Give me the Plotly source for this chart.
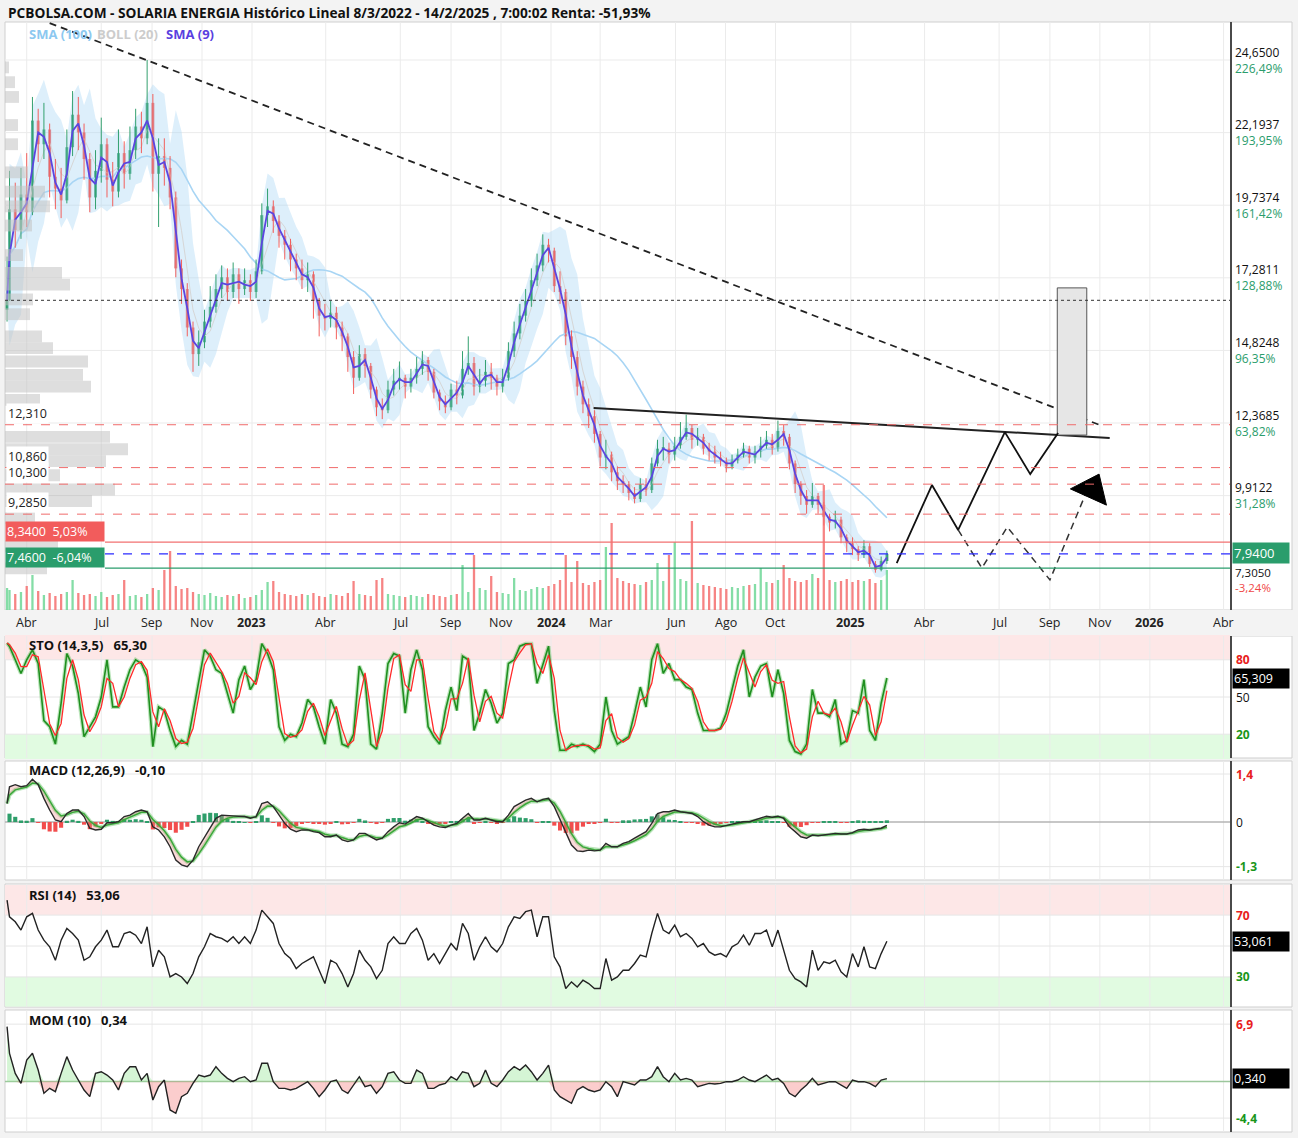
import numpy as np
import pandas as pd
import plotly.graph_objects as go

W, H = 1298, 1138
FONT = "Open Sans"

# ---------------- data (weekly samples) ----------------
dates = ["2022-03-08"] + [d.strftime("%Y-%m-%d") for d in
                          pd.date_range("2022-03-11", "2025-02-14", freq="W-FRI")]
first_open = 16.2
close = [
    # 2022
    16.52, 19.6, 18.9, 20.1, 19.5, 22.6, 21.8, 22.3, 20.7, 20.3, 19.9, 21.7, 22.8, 22.2, 21.3, 20.0, 20.9,
    21.8, 20.6, 20.2, 21.5, 20.8, 21.6, 22.4, 22.0, 23.2, 20.8, 21.4, 21.0, 20.0, 17.6, 16.9, 15.6, 14.7, 15.1,
    15.8, 16.3, 16.9, 17.3, 16.8, 17.4, 16.9, 17.2, 16.8,
    # 2023
    17.5, 19.4, 19.7, 19.2, 18.7, 18.4, 17.9, 17.6, 17.2, 17.4, 16.5, 16.0, 15.9,
    16.1, 15.6, 15.3, 14.6, 13.9, 14.7, 14.3, 13.5, 12.9, 12.8, 13.5, 13.8, 13.9,
    13.6, 13.9, 14.2, 14.5, 14.1, 13.4, 13.1, 12.9, 13.5, 13.3, 14.2, 14.4, 13.6,
    13.8, 14.1, 13.9, 13.6, 13.9, 14.8, 15.4, 16.0, 16.5, 17.2, 17.7, 18.4, 18.2,
    # 2024
    17.0, 16.8, 15.3, 14.6, 13.6, 13.0, 12.6, 12.0, 11.2, 11.3, 10.7, 10.4, 10.3,
    10.0, 9.8, 10.3, 10.1, 11.0, 11.5, 11.5, 11.3, 11.6, 11.9, 12.2, 11.8, 11.9,
    11.5, 11.4, 11.2, 11.1, 10.9, 11.1, 11.3, 11.5, 11.2, 11.4, 11.6, 11.8, 11.5,
    12.1, 11.9, 11.0, 10.3, 9.9, 9.6, 9.9, 9.6, 9.2, 9.0, 9.1, 8.5, 8.3,
    # 2025
    8.1, 7.9, 8.2, 7.6, 7.4, 7.7, 7.94,
]
high = [
    # 2022
    18.0, 20.9, 20.5, 21.0, 21.5, 23.4, 23.0, 23.2, 22.5, 21.3, 21.0, 22.3, 23.6, 23.4, 22.5, 21.5, 21.6,
    22.7, 22.0, 21.2, 22.3, 21.9, 22.4, 23.0, 22.9, 24.65, 23.5, 22.0, 22.0, 21.4, 20.2, 17.9, 17.1, 15.8,
    15.5, 16.2, 17.0, 17.4, 17.7, 17.6, 17.8, 17.6, 17.6, 17.4,
    # 2023
    17.9, 19.8, 20.3, 19.9, 19.4, 18.9, 18.6, 18.1, 17.9, 17.8, 17.5, 16.6, 16.4,
    16.5, 16.3, 15.8, 15.4, 14.8, 15.0, 14.9, 14.4, 13.6, 13.2, 13.8, 14.2, 14.45,
    14.0, 14.2, 14.6, 14.8, 14.6, 14.2, 13.5, 13.3, 13.7, 13.8, 14.8, 15.3, 14.6,
    14.2, 14.5, 14.4, 14.0, 14.2, 15.1, 15.8, 16.4, 16.9, 17.6, 18.1, 18.75, 18.6,
    # 2024
    18.3, 17.5, 16.9, 15.5, 14.8, 13.8, 13.2, 12.8, 12.1, 11.8, 11.4, 10.9, 10.6,
    10.4, 10.2, 10.5, 10.5, 11.2, 11.8, 11.9, 11.7, 11.9, 12.4, 12.65, 12.3, 12.2,
    12.0, 11.7, 11.6, 11.4, 11.2, 11.3, 11.5, 11.7, 11.6, 11.6, 11.9, 12.1, 12.0,
    12.45, 12.3, 12.0, 11.1, 10.4, 10.1, 10.34, 10.0, 9.7, 9.3, 9.4, 9.2, 8.6,
    # 2025
    8.5, 8.2, 8.4, 8.3, 7.7, 7.85, 8.05,
]
low = [
    # 2022
    15.8, 16.5, 18.3, 18.6, 19.0, 19.4, 21.2, 21.3, 20.0, 19.6, 19.3, 19.8, 21.4, 21.6, 20.6, 19.5, 19.6,
    20.5, 20.0, 19.7, 20.0, 20.3, 20.6, 21.3, 21.5, 21.8, 20.2, 19.0, 20.4, 19.6, 17.3, 16.4, 15.3, 14.1,
    14.3, 14.9, 15.6, 16.1, 16.6, 16.5, 16.6, 16.4, 16.7, 16.5,
    # 2023
    16.6, 17.4, 19.0, 18.8, 18.3, 17.9, 17.5, 17.2, 16.9, 16.8, 15.9, 15.3, 15.5,
    15.6, 15.2, 14.8, 14.1, 13.35, 13.8, 13.9, 13.2, 12.6, 12.5, 12.7, 13.3, 13.5,
    13.2, 13.4, 13.7, 14.0, 13.8, 13.2, 12.8, 12.7, 12.8, 13.0, 13.2, 14.0, 13.3,
    13.4, 13.6, 13.5, 13.3, 13.4, 13.8, 14.6, 15.2, 15.8, 16.3, 17.0, 17.5, 17.8,
    # 2024
    16.8, 16.4, 15.0, 14.2, 13.3, 12.7, 12.2, 11.7, 10.9, 10.8, 10.4, 10.1, 10.0,
    9.75, 9.65, 9.7, 9.9, 10.0, 10.9, 11.1, 11.0, 11.1, 11.5, 11.8, 11.5, 11.6,
    11.3, 11.1, 11.0, 10.9, 10.7, 10.8, 11.0, 11.2, 11.0, 11.0, 11.2, 11.5, 11.3,
    11.4, 11.6, 10.8, 10.0, 9.6, 9.3, 9.5, 9.3, 8.9, 8.7, 8.8, 8.3, 8.0,
    # 2025
    7.9, 7.7, 7.8, 7.5, 7.305, 7.35, 7.6,
]
volume = [
    2.2, 2.0, 1.6, 1.8, 2.4, 3.5, 1.9, 1.5, 1.7, 1.4, 1.6, 1.8, 3.0, 1.7, 1.5, 1.6, 1.4, 1.8, 1.3, 1.5,
    1.6, 3.0, 1.4, 1.5, 1.3, 1.6, 2.2, 2.0, 4.0, 5.9, 2.4, 2.1, 2.2, 1.8, 1.6, 1.5, 1.7, 1.4, 1.3, 1.5,
    1.4, 1.6, 1.2, 1.3,
    1.5, 2.0, 2.8, 2.9, 1.8, 1.6, 1.5, 1.4, 1.6, 1.5, 1.7, 1.4, 1.3, 1.6, 1.5, 1.4, 1.7, 2.9, 1.6, 1.5,
    1.4, 3.0, 3.2, 1.6, 1.5, 1.4, 1.3, 1.5, 1.4, 1.3, 1.6, 1.5, 1.4, 1.3, 1.5, 1.6, 4.5, 1.8, 5.5, 2.2,
    2.0, 3.4, 1.8, 1.7, 1.6, 3.2, 2.0, 1.9, 2.1, 2.3, 2.2, 2.4,
    2.6, 3.0, 5.5, 2.8, 4.9, 2.7, 2.5, 2.8, 3.0, 6.3, 8.7, 3.2, 2.9, 2.7, 2.6, 2.5, 2.8, 3.0, 4.7, 2.9,
    5.5, 6.8, 3.1, 2.9, 8.9, 2.7, 2.5, 2.4, 2.3, 2.2, 2.1, 2.3, 2.2, 2.4, 2.5, 2.6, 4.2, 2.8, 2.7, 3.0,
    4.5, 3.2, 2.9, 2.8, 3.0, 3.6, 3.2, 12.5, 3.0, 2.8, 2.9, 3.1,
    2.8, 3.0, 2.9, 3.1, 2.7, 3.0, 4.0,
]
sto_k = [
    93.5,
    90.8, 80, 69, 80, 88, 77, 31, 26, 12, 45, 85, 75, 53, 18, 26, 34, 50, 80, 42, 42,
    58, 72, 80, 77, 66, 10, 42, 39, 23, 10, 15, 12, 37, 64, 88, 83, 72, 69, 53, 37,
    64, 75, 56, 64, 93, 85, 72, 26, 15, 20, 18, 29, 48, 42, 26, 12, 48, 37, 12, 10,
    20, 75, 64, 12, 8, 37, 77, 85, 83, 37, 72, 88, 72, 26, 18, 12, 39,
    58, 39, 83, 80, 23, 37, 56, 45, 29, 37, 77, 80, 91, 93, 93, 61, 77, 91, 39, 7,
    7, 12, 10, 12, 10, 6, 12, 50, 23, 12, 15, 18, 37, 58, 42, 80, 93, 69, 77, 64,
    64, 58, 56, 37, 23, 23, 23, 25, 37, 56, 75, 88, 50, 66, 75, 77, 50, 72, 53, 15,
    6, 4, 12, 56, 37, 37, 34, 48, 12, 15, 39, 37, 64, 23, 15, 45, 65.31,
]
macd = [
    0.54,
    1.03, 1.09, 1.03, 1.06, 1.25, 1.09, 0.69, 0.35, 0.06, 0.01, 0.25, 0.35, 0.35, 0.16, -0.18, -0.23,
    -0.21, -0.02, -0.02, 0.01, 0.16, 0.2, 0.3, 0.35, 0.3, -0.14, -0.23, -0.43, -0.72, -1.11, -1.25, -1.3,
    -1.11, -0.72, -0.43, -0.14, 0.11, 0.2, 0.2, 0.18, 0.17, 0.16, 0.11, 0.16, 0.54, 0.59, 0.45, 0.2,
    -0.04, -0.21, -0.28, -0.23, -0.23, -0.28, -0.31, -0.43, -0.43, -0.38, -0.52, -0.57, -0.52, -0.33,
    -0.33, -0.43, -0.52, -0.47, -0.28, -0.14, -0.02, -0.06, 0.04, 0.16, 0.11, 0.01, -0.09, -0.14, -0.16,
    -0.09, -0.04, 0.11, 0.25, 0.06, 0.06, 0.11, 0.06, 0.01, 0.01, 0.2, 0.45, 0.54, 0.64, 0.69, 0.59,
    0.66, 0.69, 0.45, 0.06, -0.33, -0.67, -0.84, -0.86, -0.82, -0.84, -0.82, -0.62, -0.72, -0.72, -0.62,
    -0.57, -0.47, -0.38, -0.28, -0.04, 0.25, 0.3, 0.3, 0.35, 0.3, 0.28, 0.25, 0.16, 0.01, -0.09, -0.14,
    -0.14, -0.11, -0.06, -0.02, 0.01, 0.01, 0.06, 0.11, 0.17, 0.14, 0.17, 0.11, -0.14, -0.28, -0.43,
    -0.47, -0.38, -0.4, -0.38, -0.35, -0.33, -0.35, -0.35, -0.31, -0.23, -0.21, -0.23, -0.2, -0.18, -0.1,
]
rsi = [
    79.7,
    68.9, 65.7, 60.3, 68.9, 71.1, 60.3, 53.8, 49.5, 40.8, 53.8, 61.4, 58.1, 53.8, 40.8, 43, 49.5, 53.8,
    60.3, 49.5, 49.5, 58.1, 59.2, 57, 51.6, 62.4, 36.5, 47.3, 43, 30, 32.2, 30, 25.7, 32.2, 43, 49.5,
    58.1, 56, 54.9, 52.7, 56, 51.6, 56, 51.6, 60.3, 73.2, 68.9, 64.6, 51.6, 45.1, 41.9, 35.4, 38.7,
    40.8, 43, 34.3, 25.7, 40.8, 38.7, 32.2, 23.5, 32.2, 47.3, 40.8, 36.5, 28.9, 34.3, 51.6, 56, 51.6,
    51.6, 58.1, 61.4, 53.8, 40.8, 45.1, 38.7, 45.1,
    51.6, 47.3, 64.6, 58.1, 40.8, 49.5, 56, 49.5, 46.2, 51.6, 62.4, 68.9, 67.8, 72.2, 73.2, 56, 68.9,
    68.9, 43, 36.5, 22.5, 26.8, 23.5, 27.9, 25.7, 22.5, 22.5, 41.9, 27.9, 30, 34.3, 34.3, 38.7, 44.1,
    43, 58.1, 71.1, 60.3, 58.1, 63.5, 56, 58.1, 54.9, 49.5, 51.6, 46.2, 44.1, 45.1, 43, 49.5, 51.6, 57,
    50.5, 58.1, 58.1, 60.3, 49.5, 60.3, 47.3, 34.3, 28.9, 26.8, 23.5, 47.3, 34.3, 39.8, 38.7, 40.8,
    33.3, 30, 45.1, 36.5, 49.5, 36.5, 35.4, 45.1, 53.06,
]
mom = [
    6.6,
    3.39, 0.98, -0.22, 2.59, 3.39, 1.38, -1.42, -0.82, -1.22, 0.98, 2.99, 1.38, 0.18, -1.02, -1.82,
    0.98, 1.18, 0.78, 0.18, -1.02, 0.98, 1.78, 1.78, 0.18, 0.98, -2.22, -0.62, 0.18, -3.42, -3.82,
    -1.82, -1.42, -0.22, 0.78, 0.58, 0.78, 1.78, 0.98, 0.38, -0.02, 0.38, 0.58, -0.02, 0.18, 2.19,
    2.19, -0.02, -0.82, -0.82, -1.02, -0.82, -0.42, -0.02, -0.82, -1.82, -1.02, -0.02, 0.18, -1.02,
    -1.42, -0.42, 0.58, -0.62, -0.42, -1.42, -0.62, 0.98, 1.18, 0.18, -0.22, -0.22, 1.38, 0.98, -0.82,
    -0.82, -0.42, -0.22,
    0.58, 0.18, 1.18, 0.98, -0.62, -0.22, 1.38, -0.22, -0.62, 0.18, 1.18, 1.78, 1.38, 1.98, 1.18,
    0.18, 0.98, 1.98, -1.02, -1.82, -2.22, -2.62, -1.02, -0.62, -1.02, -1.22, -1.02, -0.02, -0.62,
    -1.82, -0.02, -0.22, -0.42, 0.18, 0.18, 0.58, 1.78, 0.58, -0.02, 0.98, 0.18, 0.38, 0.18, -0.62,
    -0.42, -0.22, -0.3, -0.22, -0.02, -0.02, 0.18, 0.58, 0.18, -0.02, 0.38, 0.78, 0.18, 0.38, -0.22,
    -1.42, -1.82, -1.02, -0.42, 0.38, -0.42, -0.22, -0.02, -0.02, -0.42, -0.82, 0.18, -0.02, -0.02,
    -0.22, -0.62, 0.18, 0.34,
]

# volume-at-price profile (left side)
profile_price = [24.4, 23.9, 23.4, 22.45, 21.8, 20.85, 20.2, 19.7, 19.05, 18.05, 17.45, 17.05, 16.55, 16.05,
                 15.3, 14.9, 14.45, 14.0, 13.6, 13.15, 11.9, 11.48, 11.08, 10.6, 10.12, 9.73, 9.15, 8.2, 7.45]
profile_vol = [4, 10, 14, 13, 13, 23, 40, 45, 27, 18, 57, 65, 28, 25, 37, 48, 83, 78, 86, 35, 105, 123, 101,
               55, 110, 87, 30, 53, 42]

# price axis labels
axis_prices = [24.65, 22.1937, 19.7374, 17.2811, 14.8248, 12.3685, 9.9122, 7.305]
axis_price_txt = ["24,6500", "22,1937", "19,7374", "17,2811", "14,8248", "12,3685", "9,9122", "7,3050"]
axis_pct_txt = ["226,49%", "193,95%", "161,42%", "128,88%", "96,35%", "63,82%", "31,28%", "-3,24%"]

# horizontal levels
level_vals = [12.310, 10.860, 10.300, 9.285]
level_txt = ["12,310", "10,860", "10,300", "9,2850"]
upper_box = (8.34, "8,3400\u00a0\u00a05,03%")
lower_box = (7.46, "7,4600\u00a0\u00a0-6,04%")
last_price = 7.94

# time axis labels
tick_dates = ["2022-04-01", "2022-07-01", "2022-09-01", "2022-11-01", "2023-01-01", "2023-04-01",
              "2023-07-01", "2023-09-01", "2023-11-01", "2024-01-01", "2024-03-01", "2024-06-01",
              "2024-08-01", "2024-10-01", "2025-01-01", "2025-04-01", "2025-07-01", "2025-09-01",
              "2025-11-01", "2026-01-01", "2026-04-01"]
tick_text = ["Abr", "Jul", "Sep", "Nov", "2023", "Abr", "Jul", "Sep", "Nov", "2024", "Mar", "Jun", "Ago",
             "Oct", "2025", "Abr", "Jul", "Sep", "Nov", "2026", "Abr"]

# drawn analysis objects
downtrend_d = ["2022-04-29", "2025-11-01"]
downtrend_p = [25.90, 12.30]
neck_d = ["2024-02-22", "2025-11-13"]
neck_p = [12.88, 11.86]
proj_solid_d = ["2025-02-26", "2025-04-10", "2025-05-12", "2025-07-08", "2025-08-08", "2025-09-11"]
proj_solid_p = [7.63, 10.27, 8.75, 12.06, 10.64, 12.03]
proj_dash_d = ["2025-05-12", "2025-06-10", "2025-07-11", "2025-09-01", "2025-10-14"]
proj_dash_p = [8.75, 7.46, 8.85, 7.06, 9.93]
arrow_d = ["2025-09-26", "2025-10-31", "2025-11-09", "2025-09-26"]
arrow_p = [10.14, 10.64, 9.59, 10.14]
box_d = ["2025-09-10", "2025-10-16", "2025-10-16", "2025-09-10", "2025-09-10"]
box_p = [11.96, 11.96, 16.94, 16.94, 11.96]

# ---------------- helpers ----------------
def px(x):
    return x / W


def py(y):
    return 1 - y / H


GREEN = "#33a06f"
RED = "#f25f5c"
GTXT = "#2a9d6c"
RTXT = "#f04848"

dt = pd.to_datetime(pd.Series(dates))
c = pd.Series(close, dtype=float)
o = c.shift(1)
o.iloc[0] = first_open
up_mask = (c >= o).values

sma9 = c.rolling(2, min_periods=1).mean()
sma100 = c.rolling(20, min_periods=1).mean()
bb_mid = c.rolling(4, min_periods=1).mean()
bb_sd = c.rolling(4, min_periods=1).std(ddof=0).fillna(0)
bb_up = bb_mid + 2 * bb_sd
bb_lo = bb_mid - 2 * bb_sd

DAY = 86400000

fig = go.Figure()

# ---------- main panel ----------
fig.add_trace(go.Scatter(x=dt, y=bb_up, mode="lines", line=dict(width=0, color="rgba(0,0,0,0)"),
                         xaxis="x", yaxis="y"))
fig.add_trace(go.Scatter(x=dt, y=bb_lo, mode="lines", line=dict(width=0, color="rgba(0,0,0,0)"),
                         fill="tonexty", fillcolor="rgba(170,215,245,0.40)", xaxis="x", yaxis="y"))
fig.add_trace(go.Scatter(x=dt, y=bb_mid, mode="lines", line=dict(width=1, color="#d6d6d6"),
                         xaxis="x", yaxis="y"))
fig.add_trace(go.Scatter(x=dt, y=sma100, mode="lines", line=dict(width=1.6, color="#a8d5f4"),
                         xaxis="x", yaxis="y"))

# candle wicks (one trace per colour)
for flag, col in [(True, GREEN), (False, RED)]:
    wx, wy = [], []
    for t, hi, lo_, u in zip(dt, high, low, up_mask):
        if u == flag:
            wx += [t, t, None]
            wy += [lo_, hi, None]
    fig.add_trace(go.Scatter(x=wx, y=wy, mode="lines", line=dict(color=col, width=1),
                             xaxis="x", yaxis="y"))
body = np.maximum(np.abs(c - o), 0.05)
fig.add_trace(go.Bar(x=dt, y=body, base=np.minimum(c, o), width=3.6 * DAY,
                     marker=dict(color=[GREEN if u else RED for u in up_mask], line=dict(width=0)),
                     xaxis="x", yaxis="y"))
fig.add_trace(go.Scatter(x=dt, y=sma9, mode="lines", line=dict(width=1.8, color="#5b45e0"),
                         xaxis="x", yaxis="y"))

# drawn lines
fig.add_trace(go.Scatter(x=pd.to_datetime(downtrend_d), y=downtrend_p, mode="lines",
                         line=dict(color="#222", width=1.8, dash="7px,5px"), xaxis="x", yaxis="y"))
fig.add_trace(go.Scatter(x=pd.to_datetime(neck_d), y=neck_p, mode="lines",
                         line=dict(color="#222", width=2), xaxis="x", yaxis="y"))
fig.add_trace(go.Scatter(x=pd.to_datetime(box_d), y=box_p, mode="lines", fill="toself",
                         fillcolor="#e6e6e6", line=dict(color="#555", width=1), xaxis="x", yaxis="y"))
fig.add_trace(go.Scatter(x=pd.to_datetime(proj_solid_d), y=proj_solid_p, mode="lines",
                         line=dict(color="#111", width=1.8), xaxis="x", yaxis="y"))
fig.add_trace(go.Scatter(x=pd.to_datetime(proj_dash_d), y=proj_dash_p, mode="lines",
                         line=dict(color="#333", width=1.5, dash="7px,5px"), xaxis="x", yaxis="y"))
fig.add_trace(go.Scatter(x=pd.to_datetime(arrow_d), y=arrow_p, mode="lines", fill="toself",
                         fillcolor="#000", line=dict(color="#000", width=1), xaxis="x", yaxis="y"))

# volume profile
fig.add_trace(go.Bar(y=profile_price, x=profile_vol, orientation="h", width=0.40,
                     marker=dict(color="rgba(195,195,195,0.55)", line=dict(width=0)),
                     xaxis="x2", yaxis="y"))
# volume
fig.add_trace(go.Bar(x=dt, y=volume, width=2.8 * DAY,
                     marker=dict(color=["rgba(110,215,150,0.85)" if u else "rgba(245,110,110,0.85)"
                                        for u in up_mask], line=dict(width=0)),
                     xaxis="x", yaxis="y2"))

# ---------- STO ----------
k = pd.Series(sto_k, dtype=float)
d = k.rolling(2, min_periods=1).mean()
fig.add_trace(go.Scatter(x=dt, y=k, mode="lines", line=dict(color="rgba(60,180,60,0.35)", width=4),
                         xaxis="x", yaxis="y3"))
fig.add_trace(go.Scatter(x=dt, y=k, mode="lines", line=dict(color="#1f8f1f", width=1.6),
                         xaxis="x", yaxis="y3"))
fig.add_trace(go.Scatter(x=dt, y=d, mode="lines", line=dict(color="#ff2a2a", width=1.3),
                         xaxis="x", yaxis="y3"))

# ---------- MACD ----------
m = pd.Series(macd, dtype=float)
sig = m.ewm(span=3, adjust=False).mean()
hist = m - sig
fig.add_trace(go.Bar(x=dt, y=hist, width=5 * DAY,
                     marker=dict(color=["#2e9e6a" if h >= 0 else "#f24d4d" for h in hist],
                                 line=dict(width=0)), xaxis="x", yaxis="y4"))
fig.add_trace(go.Scatter(x=dt, y=sig, mode="lines", line=dict(color="rgba(60,180,60,0.35)", width=4),
                         xaxis="x", yaxis="y4"))
fig.add_trace(go.Scatter(x=dt, y=sig, mode="lines", line=dict(color="#3aa83a", width=1.5),
                         xaxis="x", yaxis="y4"))
fig.add_trace(go.Scatter(x=dt, y=m, mode="lines", line=dict(color="#2a2a2a", width=1.4),
                         fill="tonexty", fillcolor="rgba(240,130,130,0.30)", xaxis="x", yaxis="y4"))

# ---------- RSI ----------
fig.add_trace(go.Scatter(x=dt, y=rsi, mode="lines", line=dict(color="#222", width=1.4),
                         xaxis="x", yaxis="y5"))

# ---------- MOM ----------
mm = np.array(mom, dtype=float)
fig.add_trace(go.Scatter(x=dt, y=np.maximum(mm, 0), mode="lines", line=dict(width=0),
                         fill="tozeroy", fillcolor="rgba(150,230,150,0.40)", xaxis="x", yaxis="y6"))
fig.add_trace(go.Scatter(x=dt, y=np.minimum(mm, 0), mode="lines", line=dict(width=0),
                         fill="tozeroy", fillcolor="rgba(245,130,130,0.40)", xaxis="x", yaxis="y6"))
fig.add_trace(go.Scatter(x=dt, y=mm, mode="lines", line=dict(color="#222", width=1.4),
                         xaxis="x", yaxis="y6"))

# ---------------- shapes ----------------
shapes = []
panels = [(22, 610), (636, 758), (761, 880), (884, 1007), (1010, 1132)]
for (t, b) in panels:
    shapes.append(dict(type="rect", xref="paper", yref="paper", x0=px(5), x1=px(1292), y0=py(b), y1=py(t),
                       fillcolor="white", line=dict(color="#cfcfcf", width=1), layer="below"))
shapes.append(dict(type="rect", xref="paper", yref="paper", x0=px(5), x1=px(1292), y0=py(636), y1=py(610),
                   fillcolor="#f3f3f3", line=dict(width=0), layer="below"))
zone = [("y3", 80, 100, "#fde7e7"), ("y3", 0, 20, "#e1fbe1"),
        ("y5", 70, 89.45, "#fde7e7"), ("y5", 10.75, 30, "#e1fbe1")]
for ax, a, b, col in zone:
    shapes.append(dict(type="rect", xref="paper", yref=ax, x0=px(5), x1=px(1230), y0=a, y1=b,
                       fillcolor=col, line=dict(width=0), layer="below"))
for td in tick_dates:
    for (t, b) in panels:
        shapes.append(dict(type="line", xref="x", yref="paper", x0=td, x1=td, y0=py(b), y1=py(t),
                           line=dict(color="#ebebeb", width=1), layer="below"))
for p in axis_prices[:-1]:
    shapes.append(dict(type="line", xref="paper", yref="y", x0=px(5), x1=px(1230), y0=p, y1=p,
                       line=dict(color="#ebebeb", width=1), layer="below"))
for ax, vals in [("y3", [80, 50, 20]), ("y4", [1.4, -1.3]), ("y5", [70, 50, 30]), ("y6", [6.9, -4.4])]:
    for v in vals:
        shapes.append(dict(type="line", xref="paper", yref=ax, x0=px(5), x1=px(1230), y0=v, y1=v,
                           line=dict(color="#e6e6e6", width=1), layer="below"))
shapes.append(dict(type="line", xref="paper", yref="y4", x0=px(5), x1=px(1230), y0=0, y1=0,
                   line=dict(color="#b5b5b5", width=1.5), layer="below"))
shapes.append(dict(type="line", xref="paper", yref="y6", x0=px(5), x1=px(1230), y0=0, y1=0,
                   line=dict(color="#9cc79c", width=1.5), layer="below"))
for v in level_vals:
    shapes.append(dict(type="line", xref="paper", yref="y", x0=px(5), x1=px(1230), y0=v, y1=v,
                       line=dict(color="#f06a6a", width=1, dash="dash")))
shapes.append(dict(type="line", xref="paper", yref="y", x0=px(5), x1=px(1230), y0=close[0], y1=close[0],
                   line=dict(color="#333", width=1, dash="dot")))
shapes.append(dict(type="line", xref="paper", yref="y", x0=px(105), x1=px(1230), y0=upper_box[0],
                   y1=upper_box[0], line=dict(color="#f27070", width=1.3)))
shapes.append(dict(type="line", xref="paper", yref="y", x0=px(105), x1=px(1230), y0=lower_box[0],
                   y1=lower_box[0], line=dict(color="#2a9d6c", width=1.3)))
shapes.append(dict(type="line", xref="paper", yref="y", x0=px(105), x1=px(1230), y0=last_price,
                   y1=last_price, line=dict(color="#2b2bff", width=1.3, dash="dash")))
for (t, b) in panels:
    shapes.append(dict(type="line", xref="paper", yref="paper", x0=px(1231), x1=px(1231), y0=py(b),
                       y1=py(t), line=dict(color="#4a4a4a", width=2)))

# ---------------- annotations ----------------
ann = []


def A(text, x, y, xref="paper", yref="paper", size=12, color="#111", xanchor="left", yanchor="middle",
      bg=None, width=None, yshift=0, align="left"):
    a = dict(text=text, x=x, y=y, xref=xref, yref=yref, showarrow=False, xanchor=xanchor,
             yanchor=yanchor, font=dict(family=FONT, size=size, color=color), yshift=yshift, align=align)
    if bg:
        a["bgcolor"] = bg
        a["borderpad"] = 1
    if width:
        a["width"] = width
    ann.append(a)


A("<b>PCBOLSA.COM - SOLARIA ENERGIA Histórico Lineal 8/3/2022 - 14/2/2025 , 7:00:02 Renta: -51,93%</b>",
  px(6), py(13), size=13.7)
A("<b>SMA (100)</b>", px(27), py(34), size=13, color="#8cc8f0")
A("<b>BOLL (20)</b>", px(95), py(34), size=13, color="#cccccc")
A("<b>SMA (9)</b>", px(164), py(34), size=13, color="#5a3fe0")

for p, t1, t2 in zip(axis_prices, axis_price_txt, axis_pct_txt):
    col2 = RTXT if t2.startswith("-") else GTXT
    ys = -7 if p == axis_prices[-1] else 0
    sz = 11.5 if p == axis_prices[-1] else 12
    A("%s<br><span style='color:%s'>%s</span>" % (t1, col2, t2), px(1233), p, yref="y", size=sz,
      color="#111", yshift=ys)

for v, t in zip(level_vals, level_txt):
    A(t, px(6), v, yref="y", size=12.5, color="#222", yanchor="bottom", bg="white", yshift=1)
A(upper_box[1], px(5), upper_box[0], yref="y", size=12.5, color="white", yanchor="bottom", bg="#f25c5c",
  width=96)
A(lower_box[1], px(5), lower_box[0], yref="y", size=12.5, color="white", yanchor="bottom", bg="#2a9d6c",
  width=96)
A("7,9400", px(1232), last_price, yref="y", size=13, color="white", bg="#2a9d6c", width=54, yshift=1)

for td, tt in zip(tick_dates, tick_text):
    txt = "<b>%s</b>" % tt if tt.isdigit() else tt
    A(txt, td, py(622), xref="x", size=12.5, color="#222", xanchor="center")

A("<b>STO (14,3,5)\u00a0\u00a0\u00a065,30</b>", px(27), py(645), size=13)
A("<b>MACD (12,26,9)\u00a0\u00a0\u00a0-0,10</b>", px(27), py(770), size=13)
A("<b>RSI (14)\u00a0\u00a0\u00a053,06</b>", px(27), py(895), size=13)
A("<b>MOM (10)\u00a0\u00a0\u00a00,34</b>", px(27), py(1020), size=13)

A("<b>80</b>", px(1234), 80, yref="y3", color="#e82020")
A("50", px(1234), 50, yref="y3", color="#111")
A("<b>20</b>", px(1234), 20, yref="y3", color="#1a961a")
A("65,309", px(1232), sto_k[-1], yref="y3", size=12.5, color="white", bg="#000", width=54)
A("<b>1,4</b>", px(1234), 1.4, yref="y4", color="#e82020")
A("0", px(1234), 0, yref="y4", color="#111")
A("<b>-1,3</b>", px(1234), -1.3, yref="y4", color="#1a961a")
A("<b>70</b>", px(1234), 70, yref="y5", color="#e82020")
A("<b>30</b>", px(1234), 30, yref="y5", color="#1a961a")
A("53,061", px(1232), rsi[-1], yref="y5", size=12.5, color="white", bg="#000", width=54)
A("<b>6,9</b>", px(1234), 6.9, yref="y6", color="#e82020")
A("<b>-4,4</b>", px(1234), -4.4, yref="y6", color="#1a961a")
A("0,340", px(1232), mom[-1], yref="y6", size=12.5, color="white", bg="#000", width=54)

xdom = [px(5), px(1230)]
fig.update_layout(
    width=W, height=H, margin=dict(l=0, r=0, t=0, b=0),
    paper_bgcolor="#f3f3f3", plot_bgcolor="rgba(0,0,0,0)",
    showlegend=False, hovermode=False, barmode="overlay",
    font=dict(family=FONT),
    xaxis=dict(type="date", range=["2022-03-05 12:00", "2026-04-08 20:00"], domain=xdom, anchor="y",
               visible=False, fixedrange=True),
    xaxis2=dict(overlaying="x", range=[0, 1225], domain=xdom, anchor="y", visible=False),
    yaxis=dict(domain=[py(610), py(22)], range=[6.042, 25.936], anchor="x", visible=False),
    yaxis2=dict(overlaying="y", range=[0, 58.8], anchor="x", visible=False),
    yaxis3=dict(domain=[py(759), py(635)], range=[0, 100], anchor="x", visible=False),
    yaxis4=dict(domain=[py(880), py(761)], range=[-1.69, 1.78], anchor="x", visible=False),
    yaxis5=dict(domain=[py(1006.7), py(885)], range=[10.75, 89.45], anchor="x", visible=False),
    yaxis6=dict(domain=[py(1132), py(1010)], range=[-6.07, 8.6], anchor="x", visible=False),
    shapes=shapes, annotations=ann,
)

fig.write_html("out.html")
